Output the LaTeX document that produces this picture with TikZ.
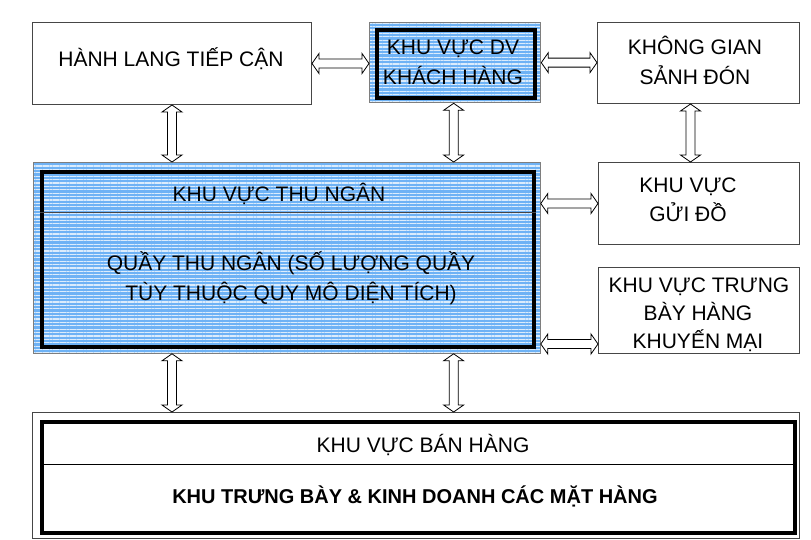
\documentclass[tikz,border=0pt]{standalone}
\usepackage{fontspec}
\setmainfont{Liberation Sans}
\usetikzlibrary{calc,patterns.meta}
\definecolor{patblue}{RGB}{110,178,245}
\definecolor{edgegray}{RGB}{70,70,70}
\newcommand\harrowfn[2]{\draw[blockarr] (#1) -- ++(7,-10) -- ++(0,5.5) -- ($(#2)+(-7,-4.5)$) -- ++(0,-5.5) -- (#2) -- ++(-7,10) -- ++(0,-5.5) -- ($(#1)+(7,4.5)$) -- ++(0,5.5) -- cycle;}
\newcommand\varrowfn[2]{\draw[blockarr] (#1) -- ++(10,7) -- ++(-5.5,0) -- ($(#2)+(4.5,-7)$) -- ++(5.5,0) -- (#2) -- ++(-10,-7) -- ++(5.5,0) -- ($(#1)+(-4.5,7)$) -- ++(-5.5,0) -- cycle;}
\begin{document}
\begin{tikzpicture}[x=1pt,y=-1pt,
  thinbox/.style={draw=edgegray, line width=1pt, fill=white, inner sep=0pt, anchor=north west},
  bluebox/.style={draw=edgegray!70, line width=0.8pt, preaction={fill=patblue}, pattern={Lines[angle=0, distance=3.4pt, line width=1.3pt]}, pattern color=white!75!patblue, inner sep=0pt, anchor=north west},
  thickbox/.style={draw=black, line width=4pt, inner sep=0pt, anchor=north west},
  txt/.style={font=\fontsize{21}{30}\selectfont, inner sep=0pt, anchor=base},
  btxt/.style={font=\fontsize{20}{30}\selectfont\bfseries, inner sep=0pt, anchor=base},
  blockarr/.style={draw=black, line width=0.8pt, fill=white, line join=miter}]
\useasboundingbox (0,0) rectangle (811,540);

% boxes
\node[thinbox, minimum width=279, minimum height=82] (hltc) at (32,22) {};
\node[bluebox, minimum width=171, minimum height=80] (dv) at (369,22) {};
\node[thickbox, minimum width=158, minimum height=68] (dvin) at (375,28) {};
\node[thinbox, minimum width=202, minimum height=81] (kg) at (597,22) {};
\node[bluebox, minimum width=507, minimum height=191] (tn) at (33,162) {};
\node[thickbox, minimum width=492, minimum height=175] (tnin) at (40,170) {};
\node[thinbox, minimum width=201, minimum height=82] (gd) at (598,162) {};
\node[thinbox, minimum width=201, minimum height=86] (km) at (598,267) {};
\node[thinbox, minimum width=767, minimum height=126] (bot) at (32,412) {};
\node[thickbox, minimum width=753, minimum height=111] (botin) at (40,420) {};

% dividers
\draw[edgegray, line width=1pt] (tnin.west |- 0,213) -- (tnin.east |- 0,213);
\draw[black, line width=1pt] (botin.west |- 0,464) -- (botin.east |- 0,464);

% texts
\node[txt] (t1) at (171,67) {HÀNH LANG TIẾP CẬN};
\node[txt] (t2a) at (453,55) {KHU VỰC DV};
\node[txt] (t2b) at (453,85) {KHÁCH HÀNG};
\node[txt] (t3a) at (695,55) {KHÔNG GIAN};
\node[txt] (t3b) at (695,85) {SẢNH ĐÓN};
\node[txt] (t4) at (279,202) {KHU VỰC THU NGÂN};
\node[txt] (t5a) at (291,270) {QUẦY THU NGÂN (SỐ LƯỢNG QUẦY};
\node[txt] (t5b) at (291,300) {TÙY THUỘC QUY MÔ DIỆN TÍCH)};
\node[txt] (t6a) at (688,193) {KHU VỰC};
\node[txt] (t6b) at (688,222) {GỬI ĐỒ};
\node[txt] (t7a) at (699,292) {KHU VỰC TRƯNG};
\node[txt] (t7b) at (698,320) {BÀY HÀNG};
\node[txt] (t7c) at (698,348) {KHUYẾN MẠI};
\node[txt] (t8) at (423,452) {KHU VỰC BÁN HÀNG};
\node[btxt] (t9) at (415,503) {KHU TRƯNG BÀY \& KINH DOANH CÁC MẶT HÀNG};

% connector end points
\coordinate (a1) at (dv.west |- hltc.east);
\coordinate (a2) at (kg.west |- dv.east);
\coordinate (a3) at (tn.east |- gd.west);
\coordinate (a4) at ($(km.south west)+(0,-10)$);
\coordinate (a4s) at (tn.east |- a4);
\coordinate (v1) at (tn.north -| hltc.south);
\coordinate (v2) at ($(dv.south)+(-1.5,0)$);
\coordinate (v2e) at (tn.north -| v2);
\coordinate (v3) at ($(kg.south)+(-8,0)$);
\coordinate (v3e) at (gd.north -| v3);
\coordinate (v4s) at (tn.south -| hltc.south);
\coordinate (v4e) at (bot.north -| hltc.south);
\coordinate (v5s) at (tn.south -| v2);
\coordinate (v5e) at (bot.north -| v2);

% arrows
\harrowfn{hltc.east}{a1}
\harrowfn{dv.east}{a2}
\harrowfn{a3}{gd.west}
\harrowfn{a4s}{a4}
\varrowfn{hltc.south}{v1}
\varrowfn{v2}{v2e}
\varrowfn{v3}{v3e}
\varrowfn{v4s}{v4e}
\varrowfn{v5s}{v5e}
\end{tikzpicture}
\end{document}
